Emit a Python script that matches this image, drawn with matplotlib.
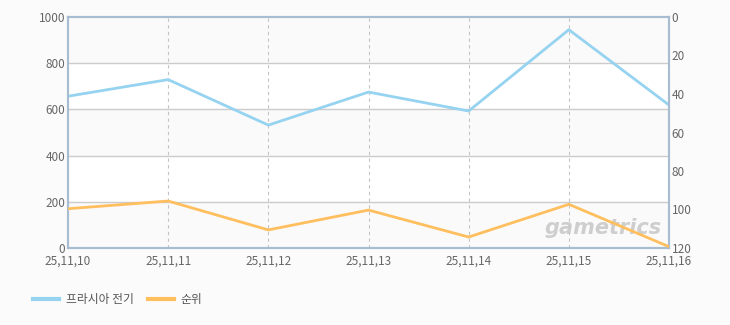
import numpy as np
import matplotlib
matplotlib.use('Agg')
import matplotlib.pyplot as plt

plt.rcParams['font.family'] = ['Noto Sans CJK KR', 'DejaVu Sans']

dates = ['25,11,10', '25,11,11', '25,11,12', '25,11,13', '25,11,14', '25,11,15', '25,11,16']
players = [657, 729, 532, 675, 593, 945, 619]
rank = [99.6, 95.6, 110.6, 100.3, 114.3, 97.3, 119.3]

blue = '#96d3f0'
orange = '#ffbf5e'
frame = '#a8bcd2'

fig = plt.figure(figsize=(7.3, 3.25), dpi=100)
fig.patch.set_facecolor('#fbfbfb')
ax = fig.add_axes([68/730, 77/325, 601/730, 231/325])
ax.set_facecolor('white')
x = np.arange(len(dates))

# alternating bands
for lo in range(0, 1000, 400):
    ax.axhspan(lo, lo + 200, color='#fafafa', zorder=0)

for yv in range(200, 1000, 200):
    ax.axhline(yv, color='#cccccc', lw=1.0, zorder=1)
for xv in x[1:-1]:
    ax.axvline(xv, color='#c4c4c4', lw=0.8, ls=(0, (3, 3)), zorder=1)

ax.plot(x, players, color=blue, lw=2, zorder=3)
ax.set_xlim(0, len(dates) - 1)
ax.set_ylim(0, 1000)
ax.set_yticks(range(0, 1001, 200))
ax.set_xticks(x)
ax.set_xticklabels(dates)

ax2 = ax.twinx()
ax2.plot(x, rank, color=orange, lw=2, zorder=3)
ax2.set_ylim(120, 0)
ax2.set_yticks(range(0, 121, 20))

for a in (ax, ax2):
    for s in a.spines.values():
        s.set_color(frame)
        s.set_linewidth(1.5)
    a.tick_params(length=0, labelsize=8.5, labelcolor='#666666', pad=2)
ax.tick_params(axis='x', pad=5)

# watermark
ax.text(0.89, 0.087, 'gametrics', transform=ax.transAxes, fontsize=15,
        fontweight='bold', style='italic', color='#c4c4c4', alpha=0.8,
        ha='center', va='center', family='DejaVu Sans', zorder=2)

leg_handles = [plt.Line2D([], [], color=blue, lw=3), plt.Line2D([], [], color=orange, lw=3)]
fig.legend(leg_handles, ['프라시아 전기', '순위'], loc='center left',
           bbox_to_anchor=(22/730, 1 - 300/325), ncol=2, frameon=False,
           fontsize=8.5, handlelength=2.2, columnspacing=1.2, handletextpad=0.6,
           labelcolor='#555555')

fig.savefig('out.png', dpi=100, facecolor=fig.get_facecolor())
